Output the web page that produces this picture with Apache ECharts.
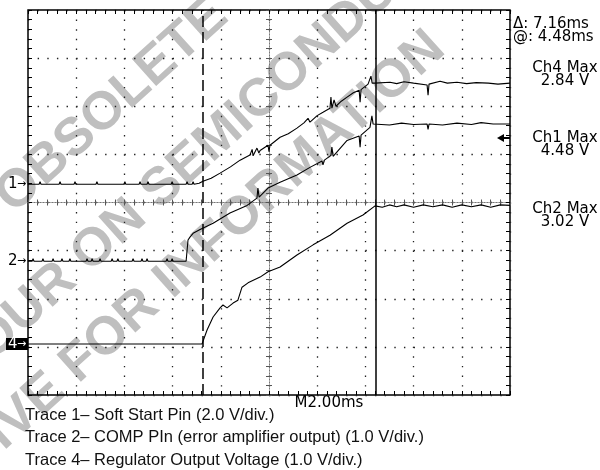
<!DOCTYPE html>
<html>
<head>
<meta charset="utf-8">
<title>Soft start traces</title>
<script src="https://cdn.jsdelivr.net/npm/echarts@6/dist/echarts.min.js"></script>
<style>
  html,body{margin:0;padding:0;background:#fff;}
  #main{width:600px;height:470px;}
</style>
</head>
<body>
<div id="main"></div>
<script type="text/javascript">
// time in ms (M2.00ms -> 10 div = 20 ms), values in volts
var ch1Time = [0, 0.46, 0.50, 0.54, 1.29, 1.33, 1.37, 1.91, 1.95, 1.99, 2.33, 2.37, 2.41, 2.82, 2.86, 2.90,
    3.98, 4.02, 4.06, 4.40, 4.44, 4.48, 4.61, 4.65, 4.69, 4.94, 4.98, 5.02, 5.31, 5.35, 5.39,
    5.94, 5.98, 6.02, 6.56, 6.60, 6.64, 6.81, 6.85, 6.89, 7.10, 7.26, 7.60, 7.97, 8.40, 8.80,
    9.21, 9.30, 9.34, 9.50, 9.58, 9.63, 9.96, 10.00, 10.04, 10.46, 10.80, 11.16, 11.45, 11.62, 11.70,
    12.00, 12.24, 12.53, 12.57, 12.61, 12.70, 12.78, 13.00, 13.24, 13.50, 13.74, 13.78, 13.82, 14.11,
    14.23, 14.28, 14.40, 15.02, 15.30, 15.60, 16.00, 16.56, 16.60, 16.64, 17.10, 17.40, 17.80, 18.20,
    18.60, 19.10, 19.50, 20.00];
var ch1Volt = [0, 0, 0.1, 0, 0, 0.1, 0, 0, 0.1, 0, 0, 0.08, 0, 0, 0.1, 0,
    0, 0.1, 0, 0, 0.08, 0, 0, 0.1, 0, 0, 0.1, 0, 0, 0.08, 0,
    0, 0.1, 0, 0, 0.1, 0, 0, 0.1, 0, 0.04, 0.12, 0.25, 0.46, 0.72, 1.00,
    1.21, 1.45, 1.18, 1.50, 1.30, 1.40, 1.62, 1.35, 1.62, 1.95, 2.10, 2.33, 2.55, 2.74, 2.58,
    2.85, 2.99, 3.16, 3.62, 3.16, 3.50, 3.24, 3.45, 3.62, 3.80, 3.91, 3.41, 3.93, 4.16,
    4.49, 4.20, 4.20, 4.24, 4.18, 4.26, 4.20, 4.12, 3.70, 4.16, 4.28, 4.20, 4.24, 4.18,
    4.22, 4.20, 4.16, 4.20];

var ch2Time = [0, 0.17, 0.21, 0.25, 0.58, 0.62, 0.66, 1.00, 1.04, 1.08, 1.37, 1.41, 1.45, 1.70, 1.74, 1.78,
    2.41, 2.45, 2.49, 2.62, 2.66, 2.70, 2.95, 2.99, 3.03, 3.45, 3.49, 3.53, 3.69, 3.73, 3.77,
    4.32, 4.36, 4.40, 4.69, 4.73, 4.77, 4.90, 4.94, 4.98, 5.73, 5.77, 5.81, 5.94, 5.98, 6.02,
    6.56, 6.60, 6.64, 6.72, 6.85, 7.14, 7.68, 8.38, 9.09, 9.50, 9.54, 9.59, 9.96, 10.46, 11.16,
    11.70, 12.20, 12.24, 12.30, 12.57, 12.61, 12.66, 13.24, 13.74, 13.78, 13.82, 14.19, 14.27, 14.32,
    14.40, 15.00, 15.50, 16.00, 16.56, 16.60, 16.64, 17.20, 17.80, 18.40, 18.80, 19.30, 20.00];
var ch2Volt = [0, 0, 0.05, 0, 0, 0.05, 0, 0, 0.05, 0, 0, 0.05, 0, 0, 0.05, 0,
    0, 0.05, 0, 0, 0.05, 0, 0, 0.05, 0, 0, 0.05, 0, 0, 0.05, 0,
    0, 0.05, 0, 0, 0.05, 0, 0, 0.05, 0, 0, 0.05, 0, 0, 0.05, 0,
    0, 0.02, 0.44, 0.50, 0.58, 0.66, 0.79, 1.00, 1.16, 1.31, 1.52, 1.33, 1.52, 1.64, 1.79,
    1.95, 2.08, 2.00, 2.10, 2.20, 2.37, 2.18, 2.51, 2.60, 2.37, 2.62, 2.78, 3.02, 2.85,
    2.87, 2.83, 2.87, 2.84, 2.85, 2.74, 2.85, 2.83, 2.87, 2.84, 2.88, 2.85, 2.85];

var ch4Time = [0, 0.75, 0.79, 0.83, 1.29, 1.33, 1.37, 1.58, 1.62, 1.66, 1.79, 1.83, 1.87, 2.41, 2.45, 2.49,
    3.03, 3.07, 3.11, 3.36, 3.40, 3.44, 3.78, 3.82, 3.86, 3.90, 3.94, 3.98, 4.11, 4.15, 4.19,
    4.32, 4.36, 4.40, 4.73, 4.77, 4.81, 5.11, 5.15, 5.19, 5.35, 5.39, 5.43, 5.65, 5.69, 5.73,
    6.81, 6.85, 6.89, 7.22, 7.43, 7.68, 7.97, 8.09, 8.26, 8.51, 8.71, 8.88, 9.13, 9.63, 9.96,
    10.46, 11.16, 11.83, 12.53, 13.24, 13.90, 14.40, 14.70, 15.00, 15.30, 15.60, 16.00, 16.40, 16.80,
    17.20, 17.60, 18.00, 18.40, 18.80, 19.20, 19.60, 20.00];
var ch4Volt = [0, 0, 0.04, 0, 0, 0.04, 0, 0, 0.04, 0, 0, 0.04, 0, 0, 0.04, 0,
    0, 0.04, 0, 0, 0.04, 0, 0, 0.04, 0, 0, 0.04, 0, 0, 0.04, 0,
    0, 0.04, 0, 0, 0.04, 0, 0, 0.04, 0, 0, 0.04, 0, 0, 0.04, 0,
    0, 0.04, 0, 0, 0.29, 0.56, 0.75, 0.81, 0.75, 0.85, 0.91, 1.18, 1.27, 1.39, 1.50,
    1.60, 1.85, 2.06, 2.26, 2.51, 2.68, 2.87, 2.84, 2.89, 2.85, 2.89, 2.84, 2.89, 2.85,
    2.89, 2.84, 2.89, 2.85, 2.89, 2.84, 2.89, 2.88];

var voltsPerDiv = [2, 1, 1];          // ch1, ch2, ch4
var groundDiv = [4.38, 2.78, 1.06];   // ground markers, divisions above the bottom edge
var cursorA = 7.26, cursorB = 14.42;  // ms

var readouts = ['\u0394: 7.16ms', '@: 4.48ms'];
var maxLabels = [['Ch4 Max', '2.84 V'], ['Ch1 Max', '4.48 V'], ['Ch2 Max', '3.02 V']];
var captions = [
    'Trace 1\u2013 Soft Start Pin (2.0 V/div.)',
    'Trace 2\u2013 COMP PIn (error amplifier output) (1.0 V/div.)',
    'Trace 4\u2013 Regulator Output Voltage (1.0 V/div.)'
];
var watermark = ['OBSOLETE', 'YOUR ON SEMICONDUCTOR', 'REPRESENTATIVE FOR INFORMATION'];

// screen box
var L = 28, T = 10, W = 482, H = 385;
var divY = H / 8;

function zip(t, v) {
    var out = [];
    for (var i = 0; i < t.length; i++) out.push([t[i], v[i]]);
    return out;
}
function txt(x, y, s, font, align, color, rot) {
    return {
        type: 'text', x: x, y: y, rotation: rot || 0, silent: true,
        style: {
            text: s, font: font, fill: color || '#000',
            align: align || 'left', textAlign: align || 'left',
            verticalAlign: 'middle', textVerticalAlign: 'middle'
        }
    };
}

var myChart = echarts.init(document.getElementById('main'), null, {renderer: 'canvas'});

var dotH = {type: [1.4, 8.24], color: '#222', width: 1.3};
var dotV = {type: [1.4, 8.22], color: '#222', width: 1.3};
var tickStyle = {color: '#000', width: 1};

function frameX(pos, split) {
    return {
        type: 'value', gridIndex: 0, min: 0, max: 20, interval: 2, position: pos,
        axisLine: {show: false, onZero: false},
        axisLabel: {show: false},
        axisTick: {show: true, inside: true, length: 4, lineStyle: tickStyle},
        minorTick: {show: true, splitNumber: 5, length: 4, lineStyle: tickStyle},
        splitLine: {show: split, lineStyle: dotV}
    };
}
function frameY(pos, split) {
    return {
        type: 'value', gridIndex: 0, min: 0, max: 8, interval: 1, position: pos,
        axisLine: {show: false, onZero: false},
        axisLabel: {show: false},
        axisTick: {show: true, inside: true, length: 4, lineStyle: tickStyle},
        minorTick: {show: true, splitNumber: 5, length: 4, lineStyle: tickStyle},
        splitLine: {show: split, lineStyle: dotH}
    };
}
// centre cross lines, ticks on both sides
var centreLine = {show: true, onZero: false, lineStyle: {color: '#777', width: 1, type: [1, 2]}};
function centreX(inside) {
    var a = frameX('bottom', false);
    a.offset = -H / 2;
    a.axisLine = centreLine;
    a.axisTick.inside = inside; a.axisTick.length = 3;
    a.axisTick.lineStyle = {color: '#555', width: 1};
    a.minorTick.length = 3;
    a.minorTick.lineStyle = {color: '#555', width: 1};
    return a;
}
function centreY(inside) {
    var a = frameY('left', false);
    a.offset = -W / 2;
    a.axisLine = centreLine;
    a.axisTick.inside = inside; a.axisTick.length = 3;
    a.axisTick.lineStyle = {color: '#555', width: 1};
    a.minorTick.length = 3;
    a.minorTick.lineStyle = {color: '#555', width: 1};
    return a;
}
function chanY(i) {
    return {
        type: 'value', gridIndex: 0, show: false,
        min: -groundDiv[i] * voltsPerDiv[i],
        max: (8 - groundDiv[i]) * voltsPerDiv[i],
        axisLine: {onZero: false}
    };
}

var traceLine = {color: '#000', width: 1.1};
var graphics = [];

// watermark, underneath everything
var wmRot = 42 * Math.PI / 180;
var wmPos = [[112, 106], [228, 129], [72, 370]];
for (var w = 0; w < watermark.length; w++) {
    var g = txt(wmPos[w][0], wmPos[w][1], watermark[w], 'bold 53px "Liberation Sans"', 'center', '#bfbfbf', wmRot);
    g.z = -1;
    graphics.push(g);
}

// ground markers
var gm = [['1', groundDiv[0]], ['2', groundDiv[1]]];
for (var k = 0; k < gm.length; k++) {
    var yy = T + H - gm[k][1] * divY;
    graphics.push(txt(8, yy, gm[k][0], '15px "DejaVu Sans"', 'left', '#000'));
    graphics.push(txt(17, yy, '\u2192', '11px "DejaVu Sans"', 'left', '#000'));
}
var y4 = T + H - groundDiv[2] * divY;
graphics.push({type: 'rect', silent: true, shape: {x: 6, y: y4 - 6, width: 22, height: 12}, style: {fill: '#000'}});
graphics.push(txt(8, y4, '4', '15px "DejaVu Sans"', 'left', '#fff'));
graphics.push(txt(17, y4, '\u2192', '11px "DejaVu Sans"', 'left', '#fff'));

// trigger level arrow (right edge)
graphics.push({type: 'polygon', silent: true, shape: {points: [[497, 138], [504, 134], [504, 142]]}, style: {fill: '#000'}});
graphics.push({type: 'line', silent: true, shape: {x1: 503, y1: 138, x2: 510, y2: 138}, style: {stroke: '#000', lineWidth: 2}});

// readouts on the right
graphics.push(txt(513, 24, readouts[0], '15px "DejaVu Sans"', 'left'));
graphics.push(txt(513, 37, readouts[1], '15px "DejaVu Sans"', 'left'));
var maxY = [68, 138, 209];
for (var m = 0; m < maxLabels.length; m++) {
    graphics.push(txt(565, maxY[m], maxLabels[m][0], '15px "DejaVu Sans"', 'center'));
    graphics.push(txt(565, maxY[m] + 13, maxLabels[m][1], '15px "DejaVu Sans"', 'center'));
}

graphics.push(txt(329, 403, 'M2.00ms', '15px "DejaVu Sans"', 'center'));
for (var c = 0; c < captions.length; c++) {
    graphics.push(txt(25, 415 + c * 22.5, captions[c], '16.5px "Liberation Sans"', 'left', '#111'));
}

option = {
    animation: false,
    backgroundColor: '#fff',
    grid: {left: L, top: T, width: W, height: H, show: true, borderColor: '#000', borderWidth: 1.5,
        containLabel: false, outerBoundsMode: 'none'},
    xAxis: [frameX('bottom', true), frameX('top', false), centreX(true), centreX(false)],
    yAxis: [frameY('left', true), frameY('right', false), centreY(true), centreY(false), chanY(0), chanY(1), chanY(2)],
    graphic: graphics,
    series: [
        {
            name: 'ch1', type: 'line', xAxisIndex: 0, yAxisIndex: 4, showSymbol: false, silent: true,
            lineStyle: traceLine, data: zip(ch1Time, ch1Volt),
            markLine: {
                symbol: 'none', silent: true, label: {show: false},
                lineStyle: {color: '#000'},
                data: [
                    {xAxis: cursorA, lineStyle: {type: [11, 5], width: 1.5, color: '#000'}},
                    {xAxis: cursorB, lineStyle: {type: 'solid', width: 1.5, color: '#000'}}
                ]
            }
        },
        {
            name: 'ch2', type: 'line', xAxisIndex: 0, yAxisIndex: 5, showSymbol: false, silent: true,
            lineStyle: traceLine, data: zip(ch2Time, ch2Volt)
        },
        {
            name: 'ch4', type: 'line', xAxisIndex: 0, yAxisIndex: 6, showSymbol: false, silent: true,
            lineStyle: traceLine, data: zip(ch4Time, ch4Volt)
        }
    ]
};
myChart.setOption(option);
</script>
</body>
</html>
